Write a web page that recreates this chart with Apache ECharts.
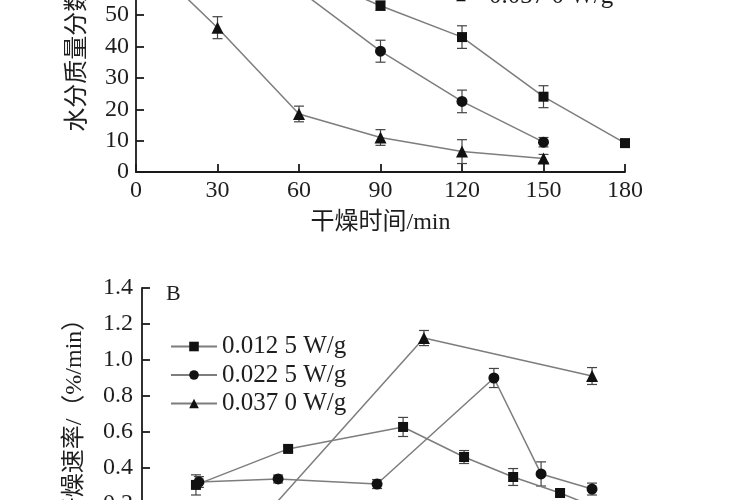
<!DOCTYPE html>
<html>
<head>
<meta charset="utf-8">
<script src="https://cdn.jsdelivr.net/npm/echarts@6/dist/echarts.min.js"></script>
<style>
html,body{margin:0;padding:0;background:#fff;}
#c{width:750px;height:500px;}
</style>
</head>
<body>
<div id="c"></div>
<script>
// ---- Names ----
var seriesNames = ['0.012 5 W/g', '0.022 5 W/g', '0.037 0 W/g'];

// ---- Chart A: moisture content vs drying time ----
var timeA = [0, 30, 60, 90, 120, 150, 180];
var moistSq = [71, 68.5, 64, 53, 43, 24, 9.2];
var moistSqErr = [1.5, 1.5, 1.5, 1.5, 3.6, 3.5, 1.2];
var moistCi = [71, 67, 58, 38.5, 22.5, 9.5];
var moistCiErr = [1.5, 1.5, 2, 3.5, 3.6, 1.5];
var moistTr = [71, 46, 18.5, 11, 6.5, 4.3];
var moistTrErr = [1.5, 3.5, 2.5, 2.5, 3.8, 1.3];

// ---- Chart B: drying rate ----
var xSqB = [19.9, 53.9, 96.3, 118.8, 136.9, 154.2, 172.6];
var rateSq = [0.306, 0.506, 0.628, 0.461, 0.35, 0.261, 0.15];
var rateSqErr = [0.056, 0.015, 0.053, 0.036, 0.047, 0.02, 0.02];
var xCiB = [21, 50.2, 86.7, 129.8, 147.2, 166];
var rateCi = [0.322, 0.339, 0.311, 0.9, 0.367, 0.283];
var rateCiErr = [0.03, 0.022, 0.025, 0.053, 0.067, 0.033];
var xTrB = [20, 42, 104, 166];
var rateTr = [0.05, 0.08, 1.122, 0.911];
var rateTrErr = [0.02, 0.02, 0.042, 0.047];

var ticksA_y = [0, 80, 10];
var ticksA_x = [0, 180, 30];
var ticksB_y = [0, 1.4, 0.2];

var FONT = '"Liberation Serif", "Noto Sans CJK SC", serif';
var TXT = '#1e1e1e';
var LINE = '#7d7d7d';
var MARK = '#111';

function pairs(xs, ys) { return xs.map(function (x, i) { return [x, ys[i]]; }); }
function triples(xs, ys, es) { return xs.map(function (x, i) { return [x, ys[i], es[i]]; }); }

function errRender(params, api) {
  var x = api.value(0), y = api.value(1), e = api.value(2);
  var t = api.coord([x, y + e]), b = api.coord([x, y - e]);
  var w = 5;
  var st = { stroke: '#444', lineWidth: 1.2 };
  return { type: 'group', children: [
    { type: 'line', shape: { x1: t[0], y1: t[1], x2: b[0], y2: b[1] }, style: st },
    { type: 'line', shape: { x1: t[0] - w, y1: t[1], x2: t[0] + w, y2: t[1] }, style: st },
    { type: 'line', shape: { x1: b[0] - w, y1: b[1], x2: b[0] + w, y2: b[1] }, style: st }
  ]};
}

var symbols = ['rect', 'circle', 'triangle'];
var sizes = [10, 11, 12];

function lineSeries(name, idx, data, gi) {
  return {
    name: name, type: 'line', xAxisIndex: gi, yAxisIndex: gi,
    data: data, symbol: symbols[idx], symbolSize: sizes[idx],
    showSymbol: true, showAllSymbol: true, clip: false, z: 3,
    lineStyle: { color: LINE, width: 1.5 },
    itemStyle: { color: MARK },
    emphasis: { disabled: true }
  };
}
function errSeries(data, gi) {
  return { type: 'custom', xAxisIndex: gi, yAxisIndex: gi, data: data,
    renderItem: errRender, encode: { x: 0, y: 1 }, z: 2, clip: false, silent: true };
}

var axisCommon = {
  axisLine: { lineStyle: { color: '#1a1a1a', width: 1.8 } },
  axisTick: { inside: true, length: 8, lineStyle: { color: '#1a1a1a', width: 1.8 } },
  splitLine: { show: false },
  axisLabel: { color: TXT, fontFamily: FONT, fontSize: 24 },
  nameTextStyle: { color: TXT, fontFamily: FONT, fontSize: 24 }
};
function ax(extra) {
  var o = JSON.parse(JSON.stringify(axisCommon));
  for (var k in extra) {
    if (typeof extra[k] === 'object' && o[k] && !Array.isArray(extra[k])) {
      for (var kk in extra[k]) o[k][kk] = extra[k][kk];
    } else o[k] = extra[k];
  }
  return o;
}

var option = {
  animation: false,
  backgroundColor: '#fff',
  grid: [
    { left: 136, top: -79, width: 489, height: 251, containLabel: false, outerBoundsMode: 'none' },
    { left: 142, top: 288, width: 488, height: 252, containLabel: false, outerBoundsMode: 'none' }
  ],
  xAxis: [
    ax({ type: 'value', gridIndex: 0, min: ticksA_x[0], max: ticksA_x[1], interval: ticksA_x[2],
      name: '干燥时间/min', nameLocation: 'middle', nameGap: 39,
      axisLabel: { margin: 7 } }),
    ax({ type: 'value', gridIndex: 1, min: 0, max: 180, interval: 30,
      axisLabel: { margin: 7 } })
  ],
  yAxis: [
    ax({ type: 'value', gridIndex: 0, min: ticksA_y[0], max: ticksA_y[1], interval: ticksA_y[2],
      name: '水分质量分数/%', nameLocation: 'middle', nameGap: 46,
      axisLabel: { margin: 7 } }),
    ax({ type: 'value', gridIndex: 1, min: ticksB_y[0], max: ticksB_y[1], interval: ticksB_y[2],
      name: '干燥速率/（%/min）', nameLocation: 'middle', nameGap: 55,
      axisLabel: { margin: 9, formatter: function (v) { return v.toFixed(1); } } })
  ],
  legend: [
    { orient: 'vertical', left: 437, top: -74, padding: 0, data: seriesNames, selectedMode: false,
      itemWidth: 46, itemHeight: 12, itemGap: 1.5,
      textStyle: { color: TXT, fontFamily: FONT, fontSize: 25, lineHeight: 27 } },
    { orient: 'vertical', left: 170, top: 333, padding: 0, data: seriesNames, selectedMode: false,
      itemWidth: 46, itemHeight: 12, itemGap: 1.5,
      textStyle: { color: TXT, fontFamily: FONT, fontSize: 25, lineHeight: 27 } }
  ],
  graphic: [
    { type: 'text', left: 166, top: 283, style: { text: 'B', font: '22px "Liberation Serif", serif', fill: TXT } }
  ],
  series: [
    lineSeries(seriesNames[0], 0, pairs(timeA, moistSq), 0),
    lineSeries(seriesNames[1], 1, pairs(timeA.slice(0, moistCi.length), moistCi), 0),
    lineSeries(seriesNames[2], 2, pairs(timeA.slice(0, moistTr.length), moistTr), 0),
    errSeries(triples(timeA, moistSq, moistSqErr), 0),
    errSeries(triples(timeA.slice(0, moistCi.length), moistCi, moistCiErr), 0),
    errSeries(triples(timeA.slice(0, moistTr.length), moistTr, moistTrErr), 0),
    lineSeries(seriesNames[0], 0, pairs(xSqB, rateSq), 1),
    lineSeries(seriesNames[1], 1, pairs(xCiB, rateCi), 1),
    lineSeries(seriesNames[2], 2, pairs(xTrB, rateTr), 1),
    errSeries(triples(xSqB, rateSq, rateSqErr), 1),
    errSeries(triples(xCiB, rateCi, rateCiErr), 1),
    errSeries(triples(xTrB, rateTr, rateTrErr), 1)
  ]
};

var chart = echarts.init(document.getElementById('c'), null, { renderer: 'canvas' });
chart.setOption(option);
</script>
</body>
</html>
